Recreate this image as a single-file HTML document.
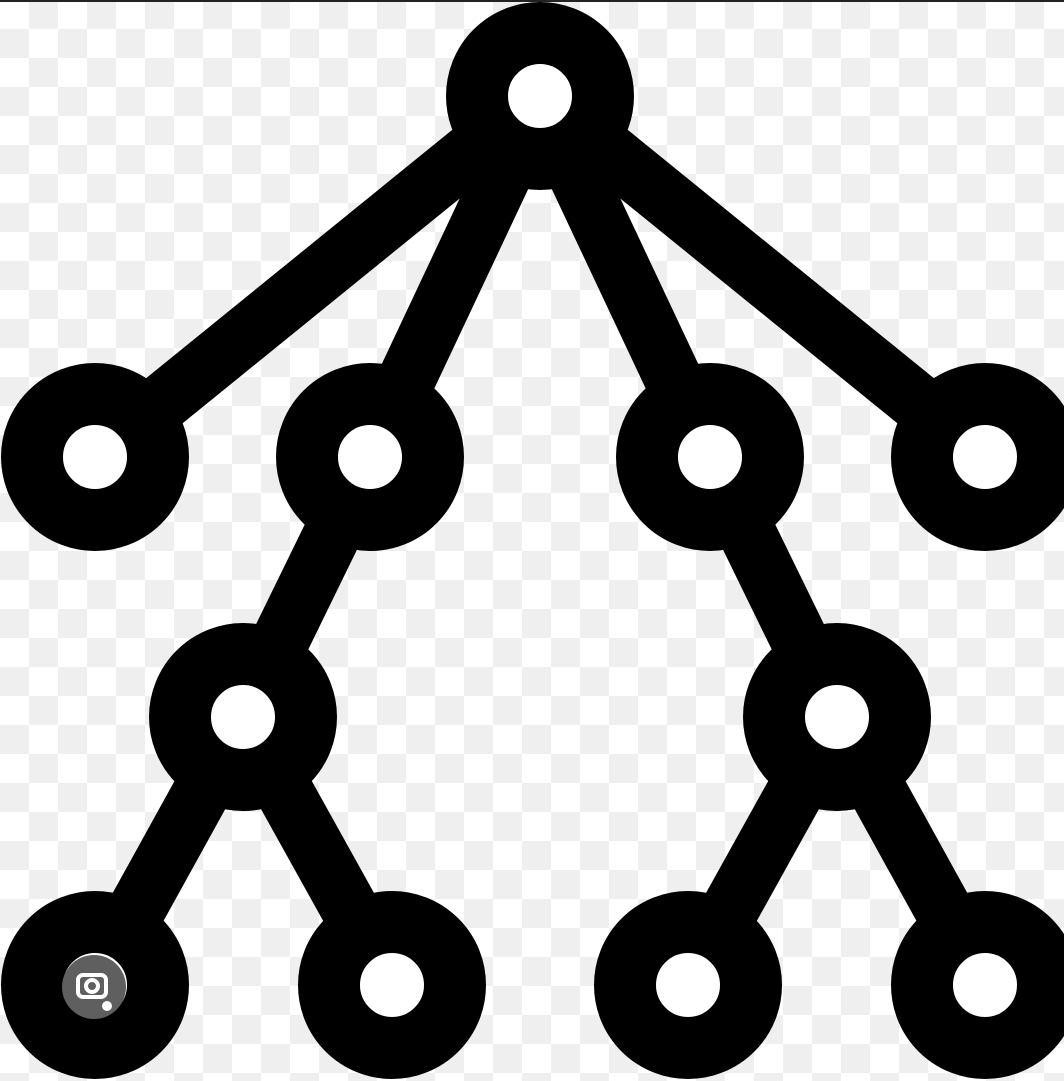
<!DOCTYPE html>
<html><head><meta charset="utf-8"><style>
html,body{margin:0;padding:0;width:1064px;height:1081px;overflow:hidden;background:#fff}
svg{display:block}
</style></head><body>
<svg id="chart" width="1064" height="1081" viewBox="0 0 1064 1081" xmlns="http://www.w3.org/2000/svg">
<defs><pattern id="chk" width="58" height="58" patternUnits="userSpaceOnUse">
<rect x="29" y="0" width="29" height="29" fill="#efefef"/><rect x="0" y="29" width="29" height="29" fill="#efefef"/></pattern></defs>
<rect x="0" y="0" width="1064" height="1081" fill="url(#chk)"/>
<rect x="0" y="0" width="1064" height="2" fill="#222"/>
<g id="edges"></g><g id="nodes"></g>
<g>
<circle cx="94" cy="987" r="32" fill="#5f5f5f"/>
<rect x="78" y="975" width="28" height="22" rx="5" fill="none" stroke="#fff" stroke-width="4"/>
<circle cx="92" cy="986" r="6" fill="none" stroke="#fff" stroke-width="4"/>
<circle cx="107" cy="1006" r="5" fill="#fff"/>
</g>
</svg>
<script>
const nodeX=[540,95,370,710,985,243,837,95,392,688,985];
const nodeY=[96,457,457,457,457,717,717,985,985,985,985];
const edgeFrom=[0,0,0,0,2,3,5,5,6,6];
const edgeTo=[1,2,3,4,5,6,7,8,9,10];
const NS='http://www.w3.org/2000/svg';
const eg=document.getElementById('edges'),ng=document.getElementById('nodes');
for(let i=0;i<edgeFrom.length;i++){
 const l=document.createElementNS(NS,'line');
 l.setAttribute('x1',nodeX[edgeFrom[i]]);l.setAttribute('y1',nodeY[edgeFrom[i]]);
 l.setAttribute('x2',nodeX[edgeTo[i]]);l.setAttribute('y2',nodeY[edgeTo[i]]);
 l.setAttribute('stroke','#000');l.setAttribute('stroke-width','58');
 
 
 eg.appendChild(l);
}
for(let i=0;i<nodeX.length;i++){
 const c=document.createElementNS(NS,'circle');
 c.setAttribute('cx',nodeX[i]);c.setAttribute('cy',nodeY[i]);c.setAttribute('r','63');
 c.setAttribute('fill','#fff');c.setAttribute('stroke','#000');c.setAttribute('stroke-width','62');
 
 
 ng.appendChild(c);
}
</script>
</body></html>
